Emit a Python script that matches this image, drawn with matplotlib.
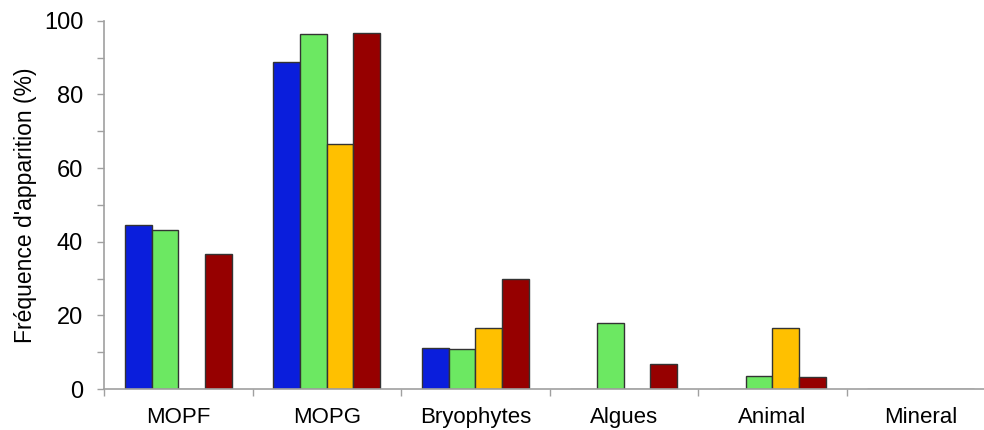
import matplotlib.pyplot as plt
import numpy as np
from matplotlib.ticker import MultipleLocator, FixedLocator

plt.rcParams['font.family'] = ['Liberation Sans', 'DejaVu Sans']

categories = ['MOPF', 'MOPG', 'Bryophytes', 'Algues', 'Animal', 'Mineral']

# four series (no legend in the original)
serie_1 = [44.4, 88.9, 11.0, 0, 0, 0]
serie_2 = [43.1, 96.4, 10.8, 18.0, 3.5, 0]
serie_3 = [0, 66.6, 16.6, 0, 16.6, 0]
serie_4 = [36.7, 96.7, 30.0, 6.7, 3.3, 0]

series = [serie_1, serie_2, serie_3, serie_4]
colors = ['#0a1edc', '#6ce862', '#ffc000', '#960000']

fig = plt.figure(figsize=(9.84, 4.30), dpi=100)
# right edge of the axis runs past the picture, as in the original
ax = fig.add_axes([104/984, 1 - 389/430, 891/984, 368.3/430])

x = np.arange(len(categories))
w = 0.18
offsets = [-1.5*w, -0.5*w, 0.5*w, 1.5*w]
for vals, off, c in zip(series, offsets, colors):
    ax.bar(x + off, vals, w, color=c, edgecolor='#333333', linewidth=1.0, zorder=2)

ax.set_xlim(-0.5, len(categories) - 0.5)
ax.set_ylim(0, 100)

ax.yaxis.set_major_locator(MultipleLocator(20))
ax.yaxis.set_minor_locator(MultipleLocator(10))
ax.set_xticks(x)
ax.set_xticklabels(categories)
ax.xaxis.set_minor_locator(FixedLocator(np.arange(-0.5, len(categories), 1.0)))

ax.tick_params(axis='y', which='both', direction='out', length=5, width=1,
               color='#a0a0a0', labelsize=17, pad=10)
ax.tick_params(axis='x', which='major', length=0, labelsize=16, pad=13)
ax.tick_params(axis='x', which='minor', direction='out', length=5, width=1,
               color='#a0a0a0')

for s in ['top', 'right']:
    ax.spines[s].set_visible(False)
for s in ['left', 'bottom']:
    ax.spines[s].set_color('#a0a0a0')
    ax.spines[s].set_linewidth(1.2)

ax.set_ylabel("Fréquence d'apparition (%)", fontsize=16.5, labelpad=5)

fig.savefig('out.png', dpi=100)
